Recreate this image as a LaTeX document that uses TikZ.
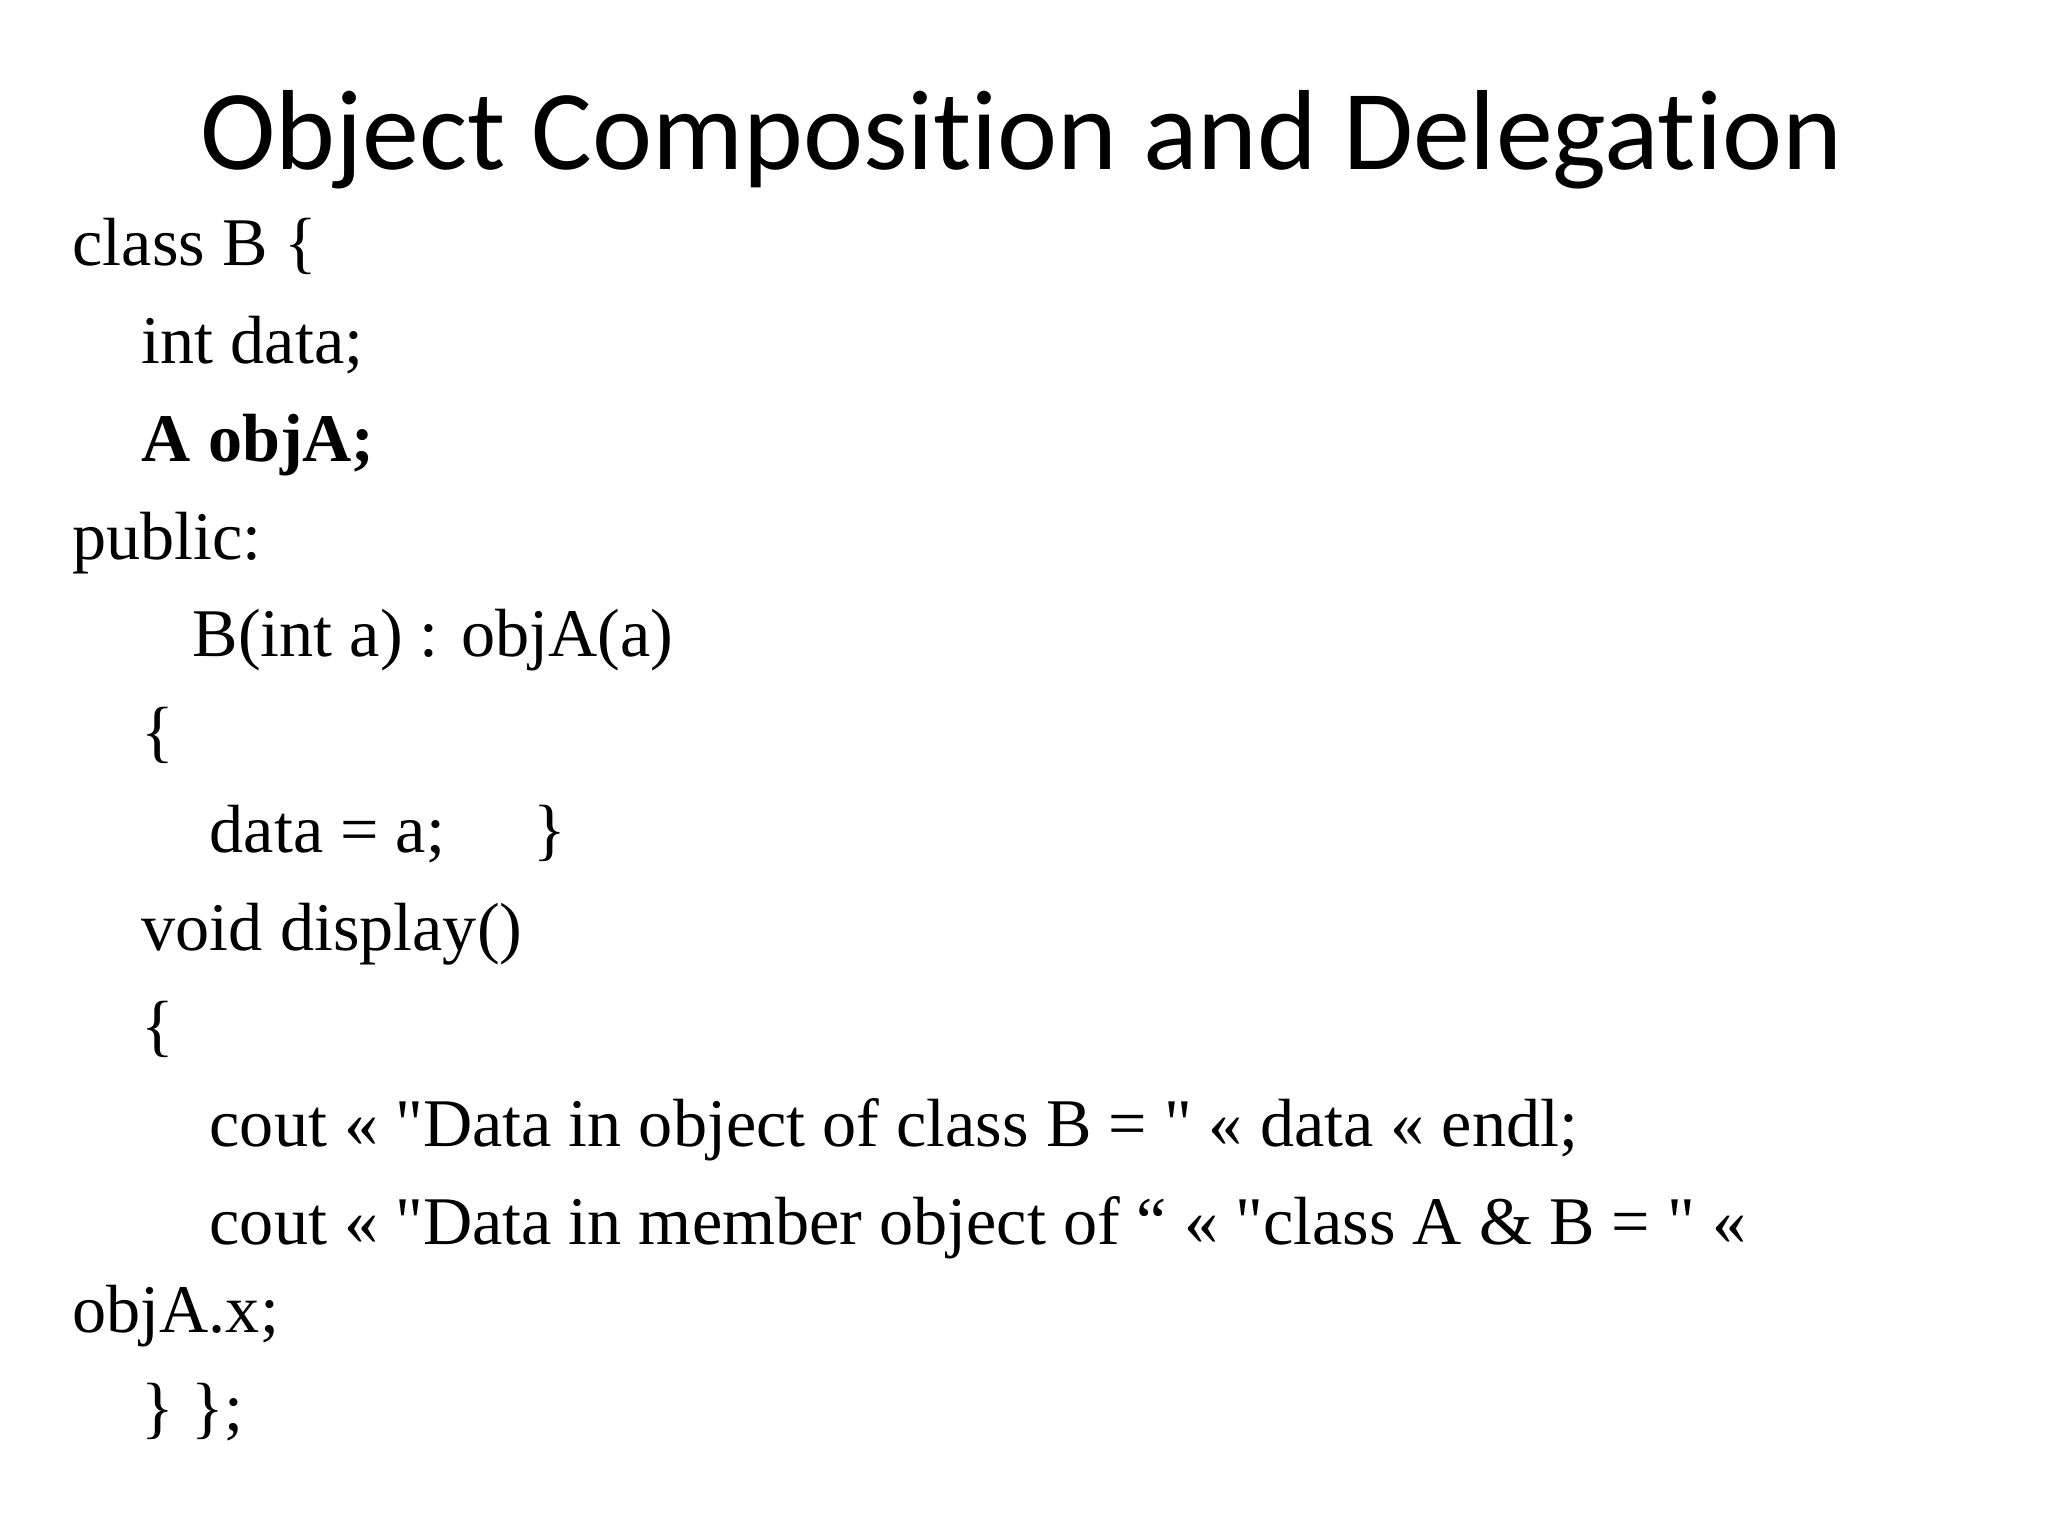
\documentclass[tikz,border=0pt]{standalone}
\usepackage{fontspec}
\setmainfont[Ligatures=NoCommon]{Liberation Serif}
\newfontfamily\titlefont[Ligatures=NoCommon]{Carlito}
\newcommand{\lsh}{\textless\textless}
\newcommand{\dq}{\textquotedbl}
\begin{document}
\begin{tikzpicture}[x=0.01306cm,y=-0.01306cm,
  code/.style={anchor=base west,inner sep=0pt,font=\fontsize{19.4}{21}\selectfont}]
\useasboundingbox (0,0) rectangle (1568,1176);
\node[anchor=base,inner sep=0pt,font=\titlefont\fontsize{32.4}{38}\selectfont] (title) at (782,130) {Object Composition and Delegation};
\node[code] (l1) at (55,203) {class B \{};
\node[code] (l2) at (108,278) {int data;};
\node[code] (l3) at (108,353) {\bfseries A objA;};
\node[code] (l4) at (55,428) {public:};
\node[code] (l5) at (147,503) {B(int a) : objA(a)};
\node[code] (l6) at (108,578) {\{};
\node[code] (l7) at (160,653) {data = a;};
\node[code] (l7b) at (408,653) {\}};
\node[code] (l8) at (108,728) {void display()};
\node[code] (l9) at (108,803) {\{};
\node[code] (l10) at (160,878) {cout \lsh{} \dq Data in object of class B = \dq{} \lsh{} data \lsh{} endl;};
\node[code] (l11) at (160,953) {cout \lsh{} \dq Data in member object of “ \lsh{} \dq class A \& B = \dq{} \lsh};
\node[code] (l12) at (55,1020) {objA.x;};
\node[code] (l13) at (108,1095) {\} \};};
\end{tikzpicture}
\end{document}
